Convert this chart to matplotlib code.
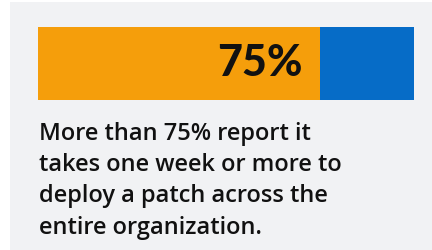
import matplotlib.pyplot as plt
from matplotlib.patches import Rectangle

# data
share = [75, 25]
colors = ["#F59E0B", "#066CC7"]
label = "75%"
caption = "More than 75% report it\ntakes one week or more to\ndeploy a patch across the\nentire organization."

W, H = 432, 250
fig = plt.figure(figsize=(W / 100, H / 100), dpi=100)
fig.patch.set_facecolor("white")

# grey card behind everything
bg = fig.add_axes([0, 0, 1, 1])
bg.set_xlim(0, W)
bg.set_ylim(H, 0)
bg.axis("off")
bg.add_patch(Rectangle((10, 2), W - 10, H - 2, color="#F1F2F4", lw=0))

bg.text(39, 122, caption, ha="left", va="top", fontsize=17,
        family="Open Sans", weight="semibold", color="#111111", linespacing=1.4)

# the stacked bar
x0, y0, bw, bh = 38, 27, 376, 73
ax = fig.add_axes([x0 / W, 1 - (y0 + bh) / H, bw / W, bh / H])
left = 0
for v, c in zip(share, colors):
    ax.barh(0, v, left=left, height=1, color=c, lw=0)
    left += v
ax.set_xlim(0, sum(share))
ax.set_ylim(-0.5, 0.5)
ax.axis("off")
ax.text(share[0] - 4.5, 0.0, label, ha="right", va="center", fontsize=31,
        family="Lato", weight="black", color="#111111")

fig.savefig("out.png", dpi=100)
